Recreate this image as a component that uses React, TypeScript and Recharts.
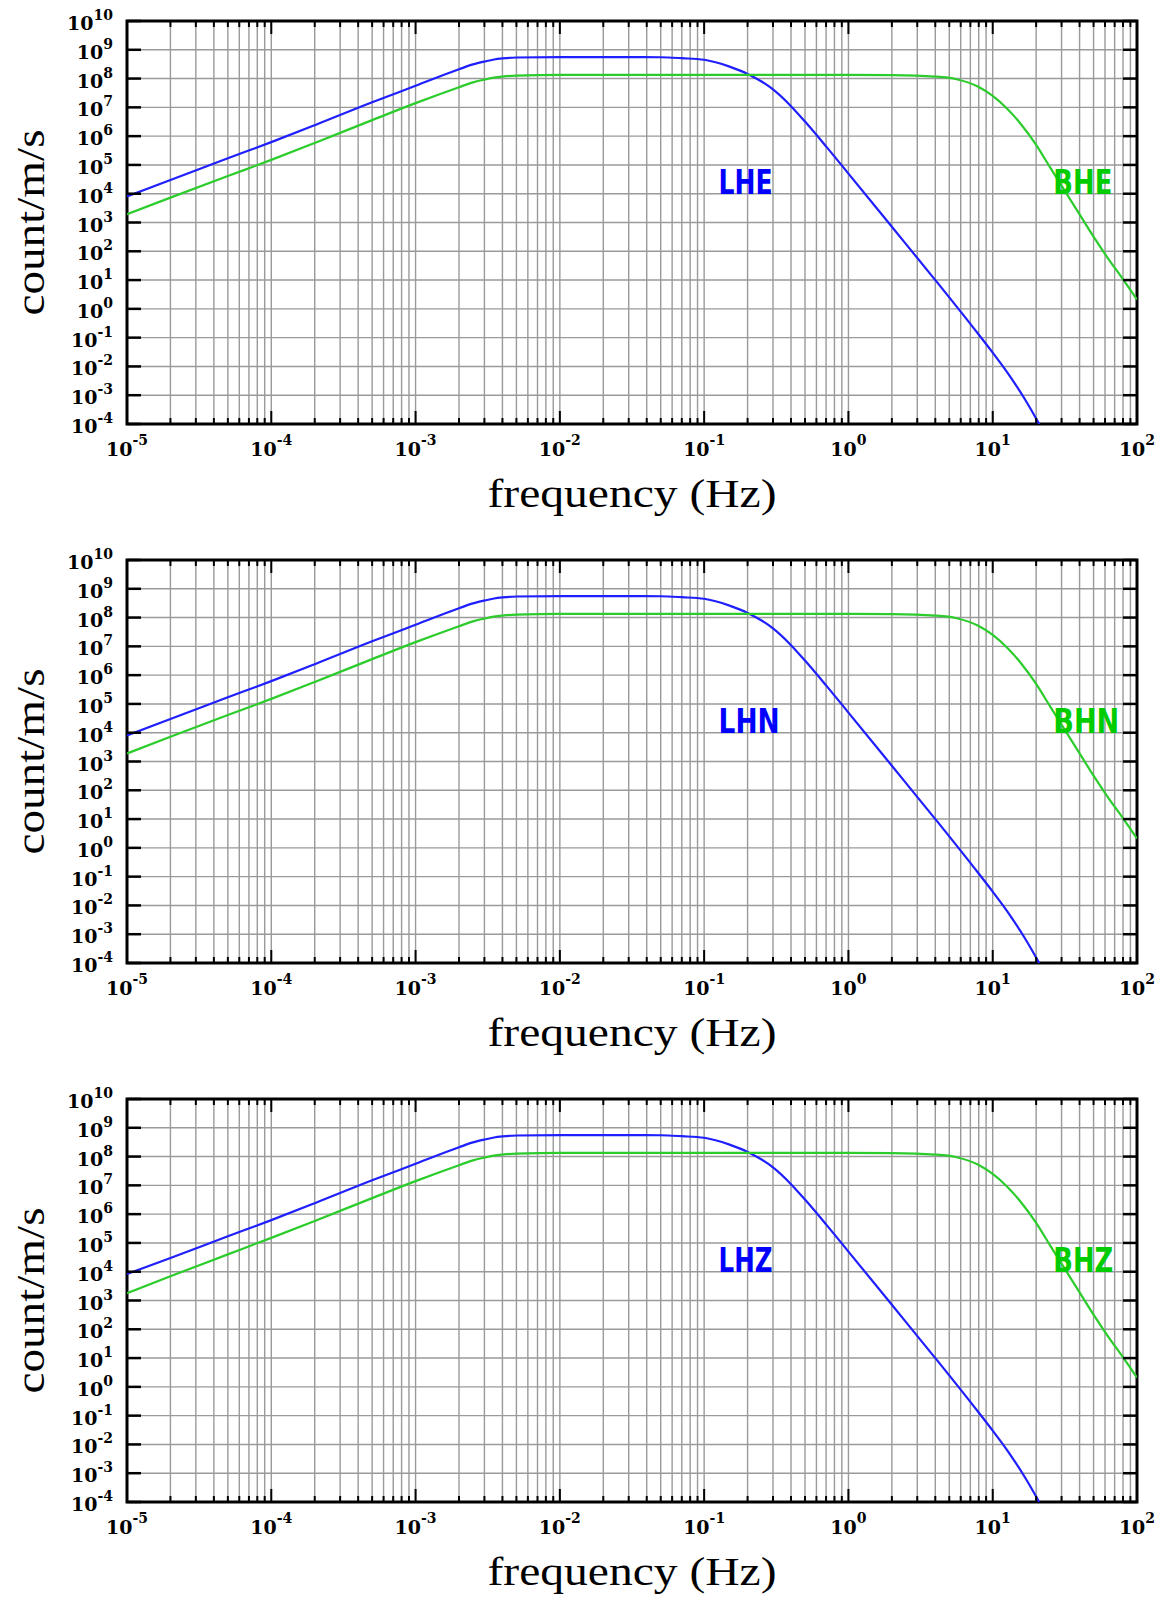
import React from "react";
import { LineChart, Line, XAxis, YAxis, CartesianGrid, ReferenceArea, ReferenceDot } from "recharts";

// frequency axis (Hz), decades
const X_DECADES = [1e-5, 1e-4, 1e-3, 1e-2, 1e-1, 1, 10, 100];
const X_EXP = ["-5", "-4", "-3", "-2", "-1", "0", "1", "2"];
const Y_TICKS = [1e-4, 1e-3, 1e-2, 1e-1, 1, 10, 1e2, 1e3, 1e4, 1e5, 1e6, 1e7, 1e8, 1e9, 1e10];
const Y_EXP = ["-4", "-3", "-2", "-1", "0", "1", "2", "3", "4", "5", "6", "7", "8", "9", "10"];

// minor grid: 1..9 in every decade
const X_TICKS: number[] = [];
for (let k = -5; k < 2; k++) {
  for (let m = 1; m < 10; m++) X_TICKS.push(m * Math.pow(10, k));
}
X_TICKS.push(100);

// long-period channels
const FREQ_LH = [1e-5, 2e-5, 5e-5, 1e-4, 2e-4, 5e-4, 1e-3, 2e-3, 2.5e-3, 3e-3, 3.5e-3, 4e-3, 5e-3, 1e-2, 2e-2, 5e-2, 0.07, 0.1, 0.12, 0.15, 0.2, 0.25, 0.3, 0.4, 0.5, 0.7, 1, 2, 4, 7.4, 10, 13, 17, 21];
const LHE = [8.1e3, 3.0e4, 1.7e5, 6.2e5, 2.4e6, 1.5e7, 5.6e7, 2.1e8, 3.1e8, 3.9e8, 4.6e8, 5.0e8, 5.4e8, 5.6e8, 5.6e8, 5.5e8, 5.1e8, 4.5e8, 3.7e8, 2.6e8, 1.45e8, 7.9e7, 4.2e7, 1.1e7, 3.2e6, 4.4e5, 5.0e4, 710, 10, 0.21, 0.03, 5.0e-3, 6.3e-4, 1.0e-4];
const LHN = [8.0e3, 3.0e4, 1.7e5, 6.2e5, 2.4e6, 1.5e7, 5.6e7, 2.1e8, 3.1e8, 3.9e8, 4.6e8, 5.0e8, 5.4e8, 5.6e8, 5.6e8, 5.5e8, 5.1e8, 4.5e8, 3.7e8, 2.6e8, 1.45e8, 7.9e7, 4.2e7, 1.1e7, 3.2e6, 4.4e5, 5.0e4, 710, 10, 0.21, 0.03, 5.0e-3, 6.3e-4, 1.0e-4];
const LHZ = [8.3e3, 3.0e4, 1.7e5, 6.2e5, 2.4e6, 1.5e7, 5.6e7, 2.1e8, 3.1e8, 3.9e8, 4.6e8, 5.0e8, 5.4e8, 5.6e8, 5.6e8, 5.5e8, 5.1e8, 4.5e8, 3.7e8, 2.6e8, 1.45e8, 7.9e7, 4.2e7, 1.1e7, 3.2e6, 4.4e5, 5.0e4, 710, 10, 0.21, 0.03, 5.0e-3, 6.3e-4, 1.0e-4];

// broadband channels
const FREQ_BH = [1e-5, 2e-5, 5e-5, 1e-4, 2e-4, 5e-4, 1e-3, 2e-3, 2.5e-3, 3e-3, 3.5e-3, 4e-3, 5e-3, 1e-2, 0.1, 1, 2, 3.98, 5.62, 7.94, 10, 12.6, 15.8, 20, 25.1, 31.6, 39.8, 50.1, 63.1, 79.4, 100];
const BHE = [1.95e3, 7.3e3, 4.1e4, 1.5e5, 5.8e5, 3.6e6, 1.4e7, 5.0e7, 7.4e7, 9.2e7, 1.08e8, 1.17e8, 1.27e8, 1.35e8, 1.35e8, 1.35e8, 1.32e8, 1.17e8, 9.5e7, 5.2e7, 2.5e7, 8.9e6, 2.5e6, 5.0e5, 7.9e4, 1.26e4, 2.0e3, 316, 56, 11.2, 2.1];
const BHN = [1.9e3, 7.2e3, 4.1e4, 1.5e5, 5.8e5, 3.6e6, 1.4e7, 5.0e7, 7.4e7, 9.2e7, 1.08e8, 1.17e8, 1.27e8, 1.35e8, 1.35e8, 1.35e8, 1.32e8, 1.17e8, 9.5e7, 5.2e7, 2.5e7, 8.9e6, 2.5e6, 5.0e5, 7.9e4, 1.26e4, 2.0e3, 316, 56, 11.2, 2.1];
const BHZ = [1.8e3, 7.0e3, 4.0e4, 1.5e5, 5.8e5, 3.6e6, 1.4e7, 5.0e7, 7.4e7, 9.2e7, 1.08e8, 1.17e8, 1.27e8, 1.35e8, 1.35e8, 1.35e8, 1.32e8, 1.17e8, 9.5e7, 5.2e7, 2.5e7, 8.9e6, 2.5e6, 5.0e5, 7.9e4, 1.26e4, 2.0e3, 316, 56, 11.2, 2.1];

const PANELS = [
  { lh: LHE, bh: BHE, lhName: "LHE", bhName: "BHE", lhLen: 54, bhLen: 59 },
  { lh: LHN, bh: BHN, lhName: "LHN", bhName: "BHN", lhLen: 61, bhLen: 66 },
  { lh: LHZ, bh: BHZ, lhName: "LHZ", bhName: "BHZ", lhLen: 54, bhLen: 60 },
];

const W = 1163;
const H = 540;
const PT = 21;
const PB = 424;
const PL = 127;
const PR = 1137;
const BLUE = "#1f1fff";
const GREEN = "#2ccc2c";

function toPoints(freq: number[], vals: number[]) {
  return freq.map((f, i) => ({ f, v: vals[i] }));
}

function YTick(props: any) {
  const { y, payload } = props;
  const i = Y_TICKS.indexOf(payload.value);
  return (
    <g>
      <line x1={PL} x2={PL + 14} y1={y} y2={y} stroke="#000" strokeWidth={2.5} />
      <line x1={PR - 14} x2={PR} y1={y} y2={y} stroke="#000" strokeWidth={2.5} />
      <text x={113} y={y + 9} textAnchor="end" fontFamily="DejaVu Serif" fontWeight="bold" fontSize={19} fill="#000">
        10<tspan dy={-10} fontSize={14}>{Y_EXP[i]}</tspan>
      </text>
    </g>
  );
}

function XTick(props: any) {
  const { x, payload } = props;
  const i = X_DECADES.indexOf(payload.value);
  const len = i >= 0 ? 13 : 6;
  return (
    <g>
      <line x1={x} x2={x} y1={PB} y2={PB - len} stroke="#000" strokeWidth={2} />
      <line x1={x} x2={x} y1={PT} y2={PT + len} stroke="#000" strokeWidth={2} />
      {i >= 0 && (
        <text x={x} y={PB + 32} textAnchor="middle" fontFamily="DejaVu Serif" fontWeight="bold" fontSize={19} fill="#000">
          10<tspan dy={-11} fontSize={14}>{X_EXP[i]}</tspan>
        </text>
      )}
    </g>
  );
}

function FreqLabel(props: any) {
  const vb = props.viewBox;
  return (
    <text x={vb.x + vb.width / 2} y={vb.y + 83} textAnchor="middle" fontFamily="Liberation Serif" fontSize={40}
      textLength={289} lengthAdjust="spacingAndGlyphs" fill="#000">
      frequency (Hz)
    </text>
  );
}

function CountLabel(props: any) {
  const vb = props.viewBox;
  const cy = vb.y + vb.height / 2;
  return (
    <text x={44} y={cy} transform={`rotate(-90, 44, ${cy})`} textAnchor="middle" fontFamily="Liberation Serif"
      fontSize={40} textLength={186} lengthAdjust="spacingAndGlyphs" fill="#000">
      count/m/s
    </text>
  );
}

function seriesLabel(text: string, color: string, len: number) {
  return (p: any) => (
    <text x={p.cx} y={p.cy} fontFamily="DejaVu Sans" fontWeight="bold" fontSize={34} fill={color}
      textLength={len} lengthAdjust="spacingAndGlyphs">
      {text}
    </text>
  );
}

function Panel({ panel }: { panel: (typeof PANELS)[number] }) {
  return (
    <LineChart width={W} height={H} margin={{ top: PT, right: W - PR, left: 0, bottom: 0 }}>
      <XAxis dataKey="f" type="number" scale="log" domain={[1e-5, 100]} ticks={X_TICKS} interval={0} height={116}
        axisLine={false} tickLine={false} tick={<XTick />} allowDataOverflow label={<FreqLabel />} />
      <YAxis type="number" scale="log" domain={[1e-4, 1e10]} ticks={Y_TICKS} interval={0} width={127}
        axisLine={false} tickLine={false} tick={<YTick />} allowDataOverflow label={<CountLabel />} />
      <CartesianGrid stroke="#9a9a9a" strokeWidth={1.4} />
      <Line data={toPoints(FREQ_LH, panel.lh)} dataKey="v" type="monotone" stroke={BLUE} strokeWidth={2.2}
        dot={false} isAnimationActive={false} />
      <Line data={toPoints(FREQ_BH, panel.bh)} dataKey="v" type="monotone" stroke={GREEN} strokeWidth={2.2}
        dot={false} isAnimationActive={false} />
      <ReferenceArea x1={1e-5} x2={100} y1={1e-4} y2={1e10} fill="none" stroke="#000" strokeWidth={3}
        fillOpacity={0} ifOverflow="visible" />
      <ReferenceDot x={0.126} y={1e4} r={0} ifOverflow="visible" shape={seriesLabel(panel.lhName, "#0000ff", panel.lhLen)} />
      <ReferenceDot x={26.3} y={1e4} r={0} ifOverflow="visible" shape={seriesLabel(panel.bhName, "#00cc00", panel.bhLen)} />
    </LineChart>
  );
}

export default function App() {
  return (
    <div style={{ position: "absolute", left: 0, top: 0, width: W, height: 1597, background: "#fff" }}>
      {PANELS.map((p, i) => (
        <div key={p.lhName} style={{ position: "absolute", left: 0, top: [0, 539, 1078][i] }}>
          <Panel panel={p} />
        </div>
      ))}
    </div>
  );
}
